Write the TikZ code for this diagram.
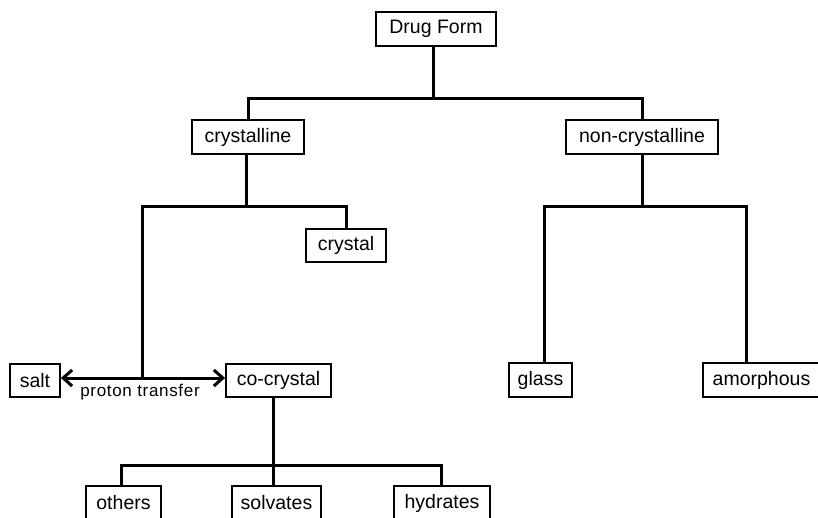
\documentclass[tikz,border=0pt]{standalone}
\usepackage{fontspec}
\setmainfont{Liberation Sans}
\newfontfamily\lblfont[LetterSpace=4]{Liberation Sans}
\usetikzlibrary{arrows.meta}
\begin{document}
\begin{tikzpicture}[x=1pt,y=-1pt,
  box/.style={draw,line width=1.8pt,inner sep=0pt,minimum height=34pt,font=\fontsize{19.5}{22}\selectfont,anchor=center},
  link/.style={line width=3pt},
  lbl/.style={font=\lblfont\fontsize{17}{19}\selectfont,inner sep=0pt}]
\useasboundingbox (0,0) rectangle (818,518);
\clip (0,0) rectangle (818,518);
% nodes
\node[box,minimum width=120pt] (drug) at (436,29) {Drug Form};
\node[box,minimum width=112pt] (cryst) at (248,137) {crystalline};
\node[box,minimum width=152pt] (noncr) at (642,137) {non-crystalline};
\node[box,minimum width=80pt,minimum height=33pt] (crystal) at (346,245.5) {crystal};
\node[box,minimum width=50pt,minimum height=33pt] (salt) at (35,380.5) {salt};
\node[box,minimum width=105pt,minimum height=33pt] (cocr) at (278.5,380.5) {co-crystal};
\node[box,minimum width=63pt] (glass) at (540.5,380) {glass};
\node[box,minimum width=117pt] (amor) at (761.5,380) {amorphous};
\node[box,minimum width=75pt] (others) at (123.5,503) {others};
\node[box,minimum width=89pt] (solv) at (276.5,503) {solvates};
\node[box,minimum width=96pt] (hydr) at (442,503) {hydrates};
\node[lbl] (pt) at (140,392) {proton transfer};
% junctions
\coordinate (j1) at (433,99);
\coordinate (j2) at (246,207);
\coordinate (j3) at (642,207);
\coordinate (j4) at (142,378);
\coordinate (j5) at (273,465);
% connectors
\draw[link] (drug.south -| j1) -- (j1);
\draw[link] (cryst.north) |- (j1) -| (noncr.north);
\draw[link] (cryst.south -| j2) -- (j2);
\draw[link] (j4) |- (j2) -| (crystal.north);
\draw[link] (noncr.south) -- (j3);
\draw[link] (glass.north -| 544,0) |- (j3) -| (amor.north -| 746,0);
\draw[link,{Straight Barb[length=9pt,width=16pt,line width=3pt]}-{Straight Barb[length=9pt,width=16pt,line width=3pt]}] (salt.east |- j4) -- (cocr.west |- j4);
\draw[link] (cocr.south -| j5) -- (j5);
\draw[link] (others.north -| 121,0) |- (j5) -| (hydr.north -| 441,0);
\draw[link] (solv.north -| j5) -- (j5);
\end{tikzpicture}
\end{document}
